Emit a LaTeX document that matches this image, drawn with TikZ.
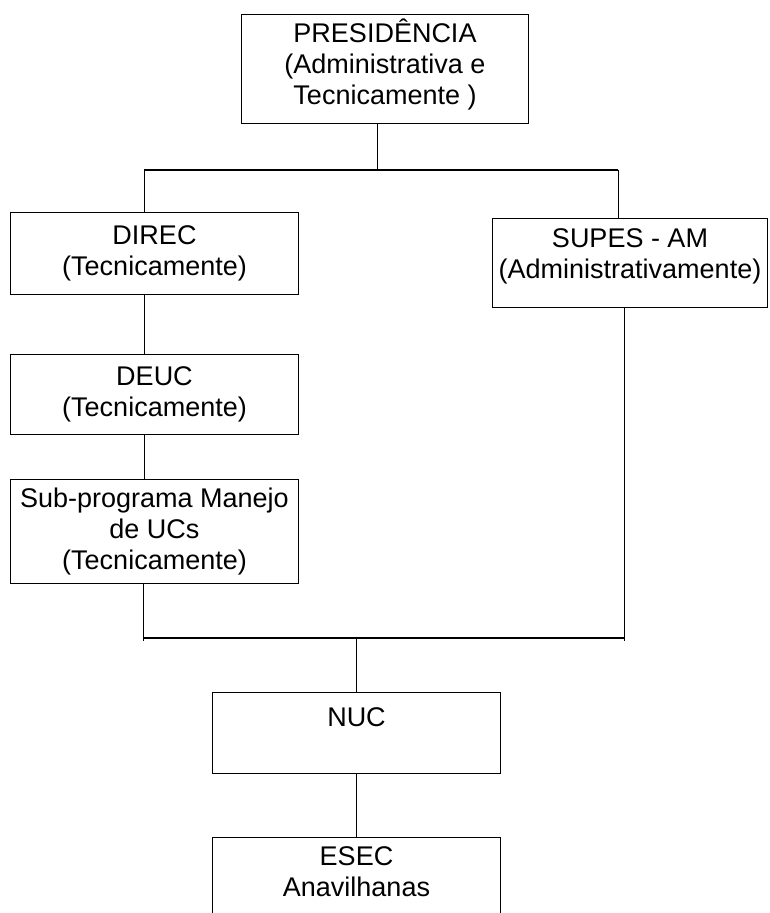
\documentclass[tikz,border=0pt]{standalone}
\usepackage{fontspec}
\setmainfont{Liberation Sans}
\usepackage{tikz}
\usetikzlibrary{positioning}

\begin{document}
\begin{tikzpicture}[
  x=1pt, y=-1pt,
  box/.style={draw, line width=1pt, align=center, inner sep=0pt, anchor=north west, minimum width=288pt, font=\fontsize{27}{31}\selectfont},
  link/.style={line width=1pt},
  bar/.style={line width=1.5pt},
]
\useasboundingbox (0,0) rectangle (769,913);
\clip (0,0) rectangle (769,913);

\node[box, minimum width=287pt, minimum height=109pt] (pres) at (241,14) {PRESIDÊNCIA\\(Administrativa e\\Tecnicamente )\\[-17pt]~};
\node[box, minimum height=82pt] (direc) at (10,212) {DIREC\\(Tecnicamente)};
\node[box, minimum width=275pt, minimum height=89pt] (supes) at (492,218) {SUPES - AM\\(Administrativamente)\\[-12pt]~};
\node[box, below=59pt of direc, minimum height=80pt] (deuc) {DEUC\\(Tecnicamente)};
\node[box, below=44pt of deuc, minimum height=104pt] (subprog) {Sub-programa Manejo\\de UCs\\(Tecnicamente)};
\node[box, minimum height=81pt] (nuc) at (212,692) {NUC\\~};
\node[box, below=63pt of nuc, minimum height=100pt] (esec) {ESEC\\Anavilhanas\\~};

% upper branch
\coordinate (tjoin) at (377,170);
\coordinate (tleft) at (144,170);
\coordinate (tright) at (618,170);
\draw[link] (pres.south -| tjoin) -- (tjoin);
\draw[bar] (tleft) -- (tright);
\draw[link] (tleft) -- (tleft |- direc.north);
\draw[link] (tright) -- (tright |- supes.north);
\draw[link] (direc.south -| tleft) -- (deuc.north -| tleft);
\draw[link] (deuc.south -| tleft) -- (subprog.north -| tleft);

% lower branch
\coordinate (bleft) at (143,638);
\coordinate (bright) at (624,638);
\coordinate (bjoin) at (356,638);
\draw[link] (subprog.south -| bleft) -- ([yshift=-3pt]bleft);
\draw[link] (supes.south -| bright) -- ([yshift=-3pt]bright);
\draw[bar] (bleft) -- (bright);
\draw[link] (bjoin) -- (bjoin |- nuc.north);
\draw[link] (nuc.south -| bjoin) -- (esec.north -| bjoin);

\end{tikzpicture}
\end{document}
